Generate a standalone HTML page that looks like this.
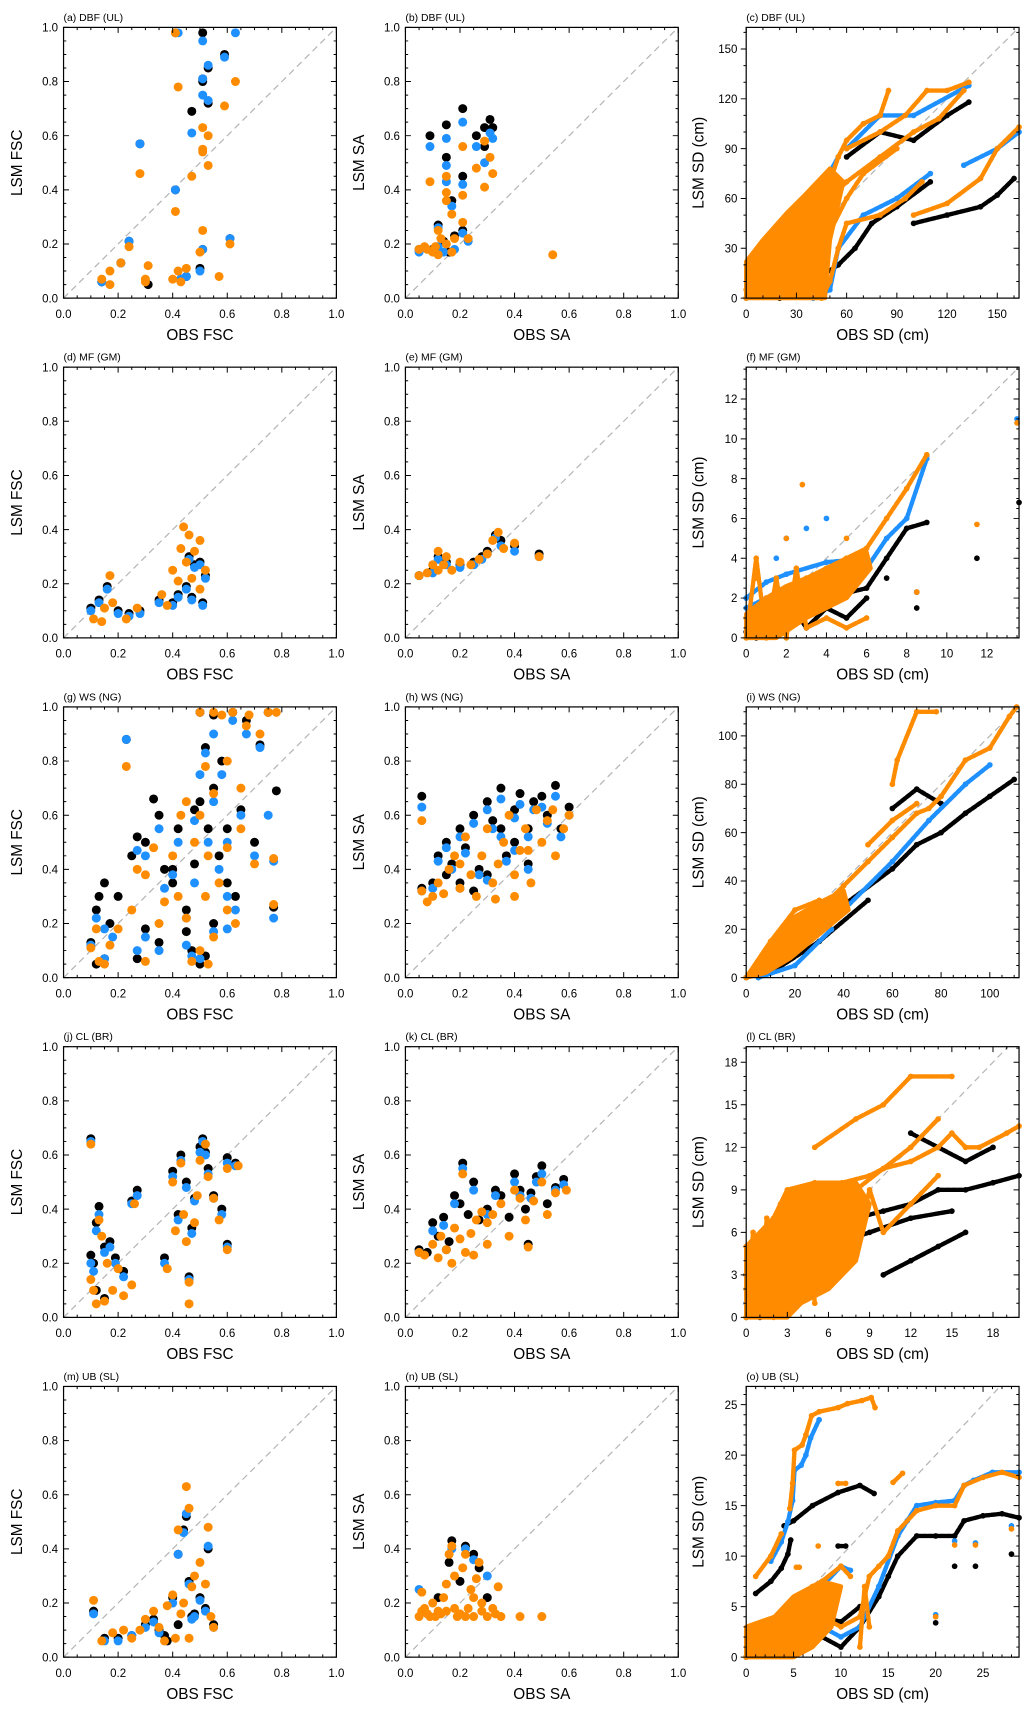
<!DOCTYPE html>
<html><head><meta charset="utf-8"><style>
html,body{margin:0;padding:0;background:#fff;}
svg{display:block;font-family:"Liberation Sans",sans-serif;}
</style></head><body>
<svg id="fig" width="1030" height="1717" viewBox="0 0 940 1566.6" preserveAspectRatio="none" xmlns="http://www.w3.org/2000/svg"></svg>
<script>
// ---------- DATA ----------
const aBlack=[[0.41,0.98],[0.51,0.98],[0.59,0.90],[0.53,0.85],[0.51,0.80],[0.53,0.72],[0.47,0.69],[0.28,0.57],[0.41,0.40],[0.51,0.18],[0.5,0.11],[0.31,0.05],[0.43,0.07],[0.61,0.22],[0.24,0.21],[0.21,0.13],[0.14,0.06],[0.45,0.08],[0.51,0.81]];
const aBlue=[[0.42,0.98],[0.51,0.95],[0.63,0.98],[0.59,0.89],[0.53,0.86],[0.51,0.81],[0.51,0.75],[0.53,0.73],[0.47,0.61],[0.28,0.57],[0.41,0.40],[0.61,0.22],[0.24,0.21],[0.51,0.18],[0.50,0.10],[0.45,0.08],[0.43,0.07],[0.14,0.06],[0.21,0.13]];
const aOrange=[[0.41,0.98],[0.42,0.78],[0.63,0.80],[0.59,0.71],[0.51,0.63],[0.53,0.60],[0.51,0.55],[0.51,0.54],[0.53,0.49],[0.47,0.45],[0.28,0.46],[0.41,0.32],[0.51,0.25],[0.61,0.20],[0.24,0.19],[0.50,0.17],[0.21,0.13],[0.31,0.12],[0.45,0.11],[0.42,0.10],[0.17,0.10],[0.14,0.07],[0.30,0.07],[0.40,0.07],[0.57,0.08],[0.30,0.06],[0.17,0.05],[0.43,0.06]];

const bBlack=[[0.09,0.60],[0.15,0.64],[0.21,0.70],[0.15,0.52],[0.26,0.60],[0.31,0.66],[0.29,0.63],[0.32,0.63],[0.29,0.56],[0.21,0.45],[0.17,0.36],[0.12,0.27],[0.21,0.25],[0.18,0.23],[0.14,0.21],[0.05,0.18],[0.10,0.18],[0.16,0.17]];
const bBlue=[[0.09,0.56],[0.15,0.59],[0.21,0.65],[0.15,0.49],[0.26,0.56],[0.31,0.61],[0.32,0.59],[0.29,0.50],[0.15,0.43],[0.21,0.42],[0.17,0.34],[0.12,0.26],[0.21,0.24],[0.23,0.21],[0.05,0.17],[0.12,0.19],[0.18,0.18],[0.14,0.17]];
const bOrange=[[0.09,0.43],[0.15,0.45],[0.21,0.56],[0.29,0.58],[0.31,0.52],[0.26,0.48],[0.32,0.46],[0.29,0.41],[0.15,0.39],[0.15,0.36],[0.21,0.38],[0.17,0.31],[0.21,0.28],[0.12,0.25],[0.13,0.22],[0.18,0.22],[0.23,0.22],[0.15,0.20],[0.07,0.19],[0.05,0.18],[0.10,0.17],[0.11,0.19],[0.17,0.17],[0.54,0.16],[0.08,0.18],[0.12,0.16]];

const cBlack=[[[20,0],[40,5],[48,8]],[[40,10],[55,20],[65,30],[75,45],[90,55],[110,70]],[[100,45],[120,50],[140,55],[150,62],[160,72]],[[60,85],[80,100],[100,95],[120,110],[133,118]]];
const cBlue=[[[0,0],[30,40],[55,85]],[[40,0],[50,5],[55,30],[70,50],[90,60],[110,75]],[[60,90],[80,110],[100,110],[133,128]],[[130,80],[150,90],[163,100]]];
const cOrange=[[[0,0],[10,20],[20,30],[30,45],[40,55],[50,70],[55,85],[60,95],[70,105],[80,110],[85,125]],[[60,90],[80,100],[95,110],[108,125],[120,125],[133,130]],[[45,55],[60,70],[80,85],[100,100],[115,108],[130,125]],[[0,5],[20,10],[40,20],[50,40],[60,60],[70,75],[90,90]],[[45,0],[50,10],[55,30],[60,45],[80,50],[95,60],[105,70]],[[100,50],[120,57],[140,72],[150,90],[163,103]]];
const cCloud=[[0,0],[0,22],[10,35],[25,52],[35,62],[50,78],[58,70],[50,35],[47,0]];

const dBlack=[[0.1,0.11],[0.13,0.14],[0.16,0.19],[0.2,0.1],[0.24,0.09],[0.28,0.1],[0.35,0.14],[0.4,0.13],[0.42,0.16],[0.45,0.19],[0.47,0.15],[0.48,0.27],[0.5,0.28],[0.51,0.13],[0.52,0.23],[0.46,0.30]];
const dBlue=[[0.1,0.10],[0.13,0.13],[0.16,0.18],[0.2,0.09],[0.24,0.08],[0.28,0.09],[0.35,0.13],[0.4,0.12],[0.42,0.15],[0.45,0.18],[0.47,0.14],[0.48,0.26],[0.5,0.27],[0.51,0.12],[0.52,0.22],[0.46,0.29]];
const dOrange=[[0.11,0.07],[0.14,0.06],[0.17,0.23],[0.15,0.11],[0.18,0.13],[0.23,0.07],[0.27,0.11],[0.36,0.16],[0.38,0.12],[0.43,0.33],[0.44,0.41],[0.46,0.38],[0.48,0.32],[0.50,0.36],[0.47,0.22],[0.52,0.25],[0.45,0.28],[0.42,0.21],[0.40,0.25],[0.5,0.18]];

const eBlack=[[0.05,0.23],[0.1,0.25],[0.12,0.3],[0.15,0.28],[0.2,0.27],[0.25,0.28],[0.3,0.32],[0.33,0.38],[0.35,0.36],[0.4,0.34],[0.49,0.31],[0.28,0.3]];
const eBlue=[[0.05,0.23],[0.1,0.24],[0.12,0.29],[0.15,0.27],[0.2,0.26],[0.25,0.27],[0.3,0.31],[0.33,0.37],[0.35,0.34],[0.4,0.32],[0.49,0.30],[0.28,0.29]];
const eOrange=[[0.05,0.23],[0.08,0.24],[0.1,0.27],[0.12,0.32],[0.14,0.27],[0.17,0.25],[0.2,0.28],[0.24,0.27],[0.27,0.29],[0.3,0.31],[0.32,0.36],[0.34,0.39],[0.36,0.33],[0.4,0.35],[0.49,0.30],[0.15,0.30],[0.12,0.25]];

const fBlack=[[[0,0.3],[1,0.8],[2,1.5],[4,2],[6,2.5],[7,4],[8,5.5],[9,5.8]],[[0.5,0],[1,1.5],[1.5,0.2],[2,2],[3,0.5],[4,1.5],[5,1],[6,2]],[[13.6,6.8]],[[11.5,4]],[[7,3]],[[8.5,1.5]],[[8.5,2.3]]];
const fBlue=[[[0,1.5],[1,2],[2,2.5],[4,3],[6,3.5],[7,5],[8,6],[9,9]],[[0,2],[1,2.8],[2,3.2],[4,3.8],[6,4]],[[13.5,11]],[[1.5,4]],[[3,5.5]],[[4,6]],[[2,5]]];
const fOrange=[[[0,1],[1,2],[2,2.5],[3,3],[4,3.5],[5,4],[6,4.5],[7,6],[8,7.5],[9,9.2]],[[0,0],[0.5,4],[1,0],[1.5,3],[2,0],[2.5,3.5],[3,0.5],[4,1],[5,0.5],[6,1]],[[2.8,7.7]],[[13.5,10.8]],[[11.5,5.7]],[[0.5,3]],[[2,5]],[[5,5]],[[8.5,2.3]]];
const fCloud=[[0,0],[0,1.2],[1,2],[2,2.6],[4,3.4],[6,4.3],[6.2,3.5],[5,2],[3,1],[1.5,0]];

const gBlack=[[0.1,0.13],[0.12,0.25],[0.13,0.3],[0.15,0.35],[0.17,0.2],[0.2,0.3],[0.23,0.88],[0.25,0.45],[0.27,0.52],[0.3,0.5],[0.33,0.66],[0.35,0.6],[0.37,0.4],[0.4,0.35],[0.42,0.55],[0.45,0.25],[0.47,0.1],[0.48,0.62],[0.5,0.98],[0.5,0.65],[0.52,0.85],[0.53,0.55],[0.55,0.97],[0.55,0.7],[0.57,0.45],[0.58,0.8],[0.6,0.35],[0.6,0.55],[0.62,0.98],[0.63,0.3],[0.65,0.62],[0.67,0.95],[0.7,0.5],[0.72,0.86],[0.75,0.98],[0.78,0.69],[0.77,0.26],[0.5,0.05],[0.52,0.08],[0.45,0.17],[0.35,0.13],[0.27,0.07],[0.15,0.07],[0.12,0.05],[0.4,0.4],[0.55,0.2],[0.48,0.42],[0.3,0.18]];
const gBlue=[[0.1,0.12],[0.12,0.22],[0.15,0.18],[0.18,0.15],[0.23,0.88],[0.27,0.47],[0.3,0.45],[0.35,0.55],[0.37,0.33],[0.42,0.5],[0.45,0.22],[0.47,0.08],[0.48,0.58],[0.5,0.98],[0.5,0.75],[0.52,0.83],[0.53,0.5],[0.55,0.9],[0.55,0.65],[0.57,0.4],[0.58,0.75],[0.6,0.3],[0.6,0.5],[0.62,0.95],[0.63,0.25],[0.65,0.6],[0.67,0.9],[0.7,0.45],[0.72,0.85],[0.75,0.6],[0.77,0.22],[0.77,0.43],[0.5,0.07],[0.45,0.12],[0.35,0.1],[0.27,0.1],[0.15,0.07],[0.55,0.17],[0.48,0.35],[0.3,0.15],[0.6,0.18],[0.4,0.38]];
const gOrange=[[0.1,0.11],[0.12,0.18],[0.13,0.06],[0.15,0.05],[0.17,0.12],[0.2,0.18],[0.23,0.78],[0.25,0.25],[0.27,0.4],[0.3,0.38],[0.33,0.48],[0.35,0.2],[0.37,0.28],[0.4,0.45],[0.42,0.3],[0.45,0.22],[0.47,0.06],[0.48,0.5],[0.5,0.98],[0.5,0.6],[0.52,0.78],[0.53,0.45],[0.55,0.98],[0.55,0.68],[0.57,0.35],[0.58,0.97],[0.6,0.25],[0.6,0.48],[0.62,0.98],[0.63,0.2],[0.65,0.55],[0.67,0.93],[0.68,0.97],[0.7,0.42],[0.72,0.9],[0.75,0.98],[0.78,0.98],[0.77,0.44],[0.77,0.27],[0.5,0.1],[0.53,0.05],[0.45,0.65],[0.43,0.6],[0.3,0.06],[0.55,0.15],[0.6,0.8],[0.65,0.7],[0.52,0.3]];

const hBlack=[[0.06,0.67],[0.06,0.33],[0.1,0.35],[0.12,0.45],[0.15,0.5],[0.17,0.42],[0.2,0.55],[0.22,0.48],[0.25,0.6],[0.27,0.4],[0.3,0.65],[0.32,0.58],[0.35,0.7],[0.37,0.45],[0.4,0.62],[0.42,0.68],[0.45,0.55],[0.47,0.65],[0.5,0.67],[0.52,0.6],[0.55,0.71],[0.57,0.55],[0.6,0.63],[0.2,0.35],[0.3,0.38],[0.4,0.5],[0.25,0.32],[0.45,0.42],[0.15,0.38],[0.35,0.55]];
const hBlue=[[0.06,0.63],[0.06,0.32],[0.1,0.33],[0.12,0.43],[0.15,0.48],[0.17,0.4],[0.2,0.52],[0.22,0.46],[0.25,0.57],[0.27,0.38],[0.3,0.62],[0.32,0.55],[0.35,0.66],[0.37,0.43],[0.4,0.59],[0.42,0.64],[0.45,0.52],[0.47,0.62],[0.5,0.63],[0.52,0.57],[0.55,0.67],[0.57,0.52],[0.6,0.6],[0.2,0.33],[0.3,0.36],[0.4,0.47],[0.45,0.4],[0.35,0.52]];
const hOrange=[[0.06,0.58],[0.06,0.32],[0.08,0.28],[0.1,0.3],[0.12,0.35],[0.14,0.31],[0.16,0.4],[0.18,0.45],[0.2,0.33],[0.22,0.52],[0.24,0.38],[0.26,0.3],[0.28,0.45],[0.3,0.55],[0.32,0.35],[0.34,0.42],[0.36,0.5],[0.38,0.6],[0.4,0.38],[0.42,0.47],[0.44,0.55],[0.46,0.35],[0.48,0.62],[0.5,0.5],[0.52,0.58],[0.55,0.45],[0.58,0.55],[0.6,0.6],[0.4,0.3],[0.2,0.42],[0.33,0.29],[0.45,0.47],[0.54,0.62]];

const iBlack=[[[0,0],[20,12],[40,30],[60,45],[70,55],[80,60],[90,68],[100,75],[110,82]],[[60,70],[70,78],[80,72]],[[10,2],[30,15],[50,32]]];
const iBlue=[[[0,0],[20,10],[40,28],[60,48],[75,65],[90,80],[100,88]],[[5,0],[20,5],[35,20]]];
const iOrange=[[[0,0],[10,8],[20,20],[30,28],[40,38],[50,48],[60,58],[70,68],[75,70],[80,75],[90,90],[100,95],[108,108],[111,112]],[[60,80],[62,90],[70,110],[78,110]],[[0,0],[10,15],[20,28],[30,32],[20,18],[10,6]],[[50,55],[60,65],[70,72]]];
const iCloud=[[0,0],[8,12],[18,24],[30,31],[40,36],[42,28],[30,18],[18,8],[8,2]];

const jBlack=[[0.1,0.66],[0.1,0.23],[0.11,0.2],[0.12,0.35],[0.13,0.41],[0.15,0.26],[0.17,0.28],[0.19,0.22],[0.22,0.17],[0.25,0.43],[0.27,0.47],[0.37,0.22],[0.4,0.54],[0.42,0.38],[0.43,0.6],[0.45,0.5],[0.47,0.33],[0.48,0.44],[0.5,0.63],[0.51,0.66],[0.52,0.61],[0.53,0.55],[0.55,0.45],[0.58,0.4],[0.6,0.59],[0.63,0.57],[0.46,0.15],[0.6,0.27],[0.12,0.1],[0.15,0.07]];
const jBlue=[[0.1,0.65],[0.1,0.2],[0.11,0.17],[0.12,0.32],[0.13,0.38],[0.15,0.24],[0.17,0.26],[0.19,0.2],[0.22,0.15],[0.25,0.42],[0.27,0.45],[0.37,0.2],[0.4,0.52],[0.42,0.36],[0.43,0.58],[0.45,0.48],[0.47,0.31],[0.48,0.43],[0.5,0.61],[0.51,0.65],[0.52,0.6],[0.53,0.53],[0.55,0.44],[0.58,0.38],[0.6,0.57],[0.63,0.56],[0.46,0.14],[0.6,0.26]];
const jOrange=[[0.1,0.64],[0.1,0.14],[0.11,0.1],[0.12,0.05],[0.13,0.36],[0.14,0.3],[0.15,0.06],[0.16,0.2],[0.18,0.1],[0.2,0.18],[0.22,0.08],[0.25,0.12],[0.26,0.42],[0.38,0.18],[0.4,0.5],[0.41,0.32],[0.43,0.57],[0.45,0.28],[0.46,0.05],[0.46,0.13],[0.48,0.35],[0.5,0.58],[0.52,0.64],[0.53,0.52],[0.55,0.44],[0.57,0.36],[0.6,0.25],[0.6,0.55],[0.64,0.56],[0.49,0.45],[0.44,0.38]];

const kBlack=[[0.05,0.25],[0.08,0.24],[0.1,0.35],[0.12,0.3],[0.14,0.37],[0.16,0.28],[0.18,0.45],[0.2,0.42],[0.21,0.57],[0.23,0.38],[0.25,0.5],[0.27,0.36],[0.3,0.4],[0.33,0.47],[0.35,0.45],[0.38,0.37],[0.4,0.53],[0.42,0.47],[0.44,0.4],[0.46,0.46],[0.48,0.52],[0.5,0.56],[0.52,0.42],[0.55,0.48],[0.58,0.51],[0.45,0.27],[0.15,0.25]];
const kBlue=[[0.05,0.24],[0.1,0.32],[0.14,0.34],[0.18,0.42],[0.21,0.55],[0.25,0.47],[0.3,0.38],[0.33,0.45],[0.4,0.5],[0.42,0.45],[0.46,0.44],[0.48,0.5],[0.5,0.53],[0.55,0.47],[0.58,0.49]];
const kOrange=[[0.05,0.24],[0.07,0.23],[0.1,0.27],[0.12,0.22],[0.13,0.3],[0.15,0.25],[0.17,0.2],[0.18,0.33],[0.2,0.29],[0.21,0.53],[0.22,0.24],[0.24,0.31],[0.26,0.36],[0.28,0.39],[0.3,0.35],[0.32,0.38],[0.35,0.42],[0.38,0.3],[0.4,0.47],[0.42,0.44],[0.44,0.36],[0.45,0.26],[0.47,0.43],[0.5,0.5],[0.52,0.38],[0.55,0.46],[0.59,0.47],[0.3,0.27],[0.25,0.23]];

const lBlack=[[[0,0],[2,3],[4,5],[6,6],[8,7],[10,7.5],[12,8],[14,9],[16,9],[18,9.5],[19.9,10]],[[0,3],[3,4],[6,5],[9,6],[12,7],[15,7.5]],[[12,13],[14,12],[16,11],[18,12]],[[10,3],[12,4],[14,5],[16,6]],[[1,0],[2,6],[3,1],[4,7],[5,2],[6,8]]];
const lBlue=[[[0,1],[2,4],[4,6],[6,7]],[[0,0],[1,3],[2,1]]];
const lOrange=[[[0,5],[2,7],[3,9],[5,9.5],[7,9.5],[9,10],[10,10.5],[12,11],[14,12],[15,13],[16,12],[17,12],[19,13],[19.9,13.5]],[[5,12],[8,14],[10,15],[12,17],[15,17]],[[0,0],[1,4],[2,2],[3,6],[4,3],[5,7],[6,4],[7,8],[8,5],[9,9],[10,6],[12,8],[14,10]],[[0,2],[2,5],[4,6],[6,8],[8,9],[10,10.5],[12,12],[14,14]],[[0,0],[0.5,6],[1,1],[1.5,7],[2,0],[2.5,8],[3,1],[3.5,9],[4,2],[4.5,8],[5,1]]];
const lCloud=[[0,0],[0,5],[2,7],[3,9],[5,9.5],[8,9.5],[9,8],[8,4],[6,2],[4,1],[3,0]];

const mBlack=[[0.11,0.17],[0.15,0.07],[0.2,0.07],[0.25,0.08],[0.3,0.12],[0.33,0.14],[0.35,0.1],[0.37,0.08],[0.4,0.22],[0.42,0.38],[0.44,0.47],[0.45,0.52],[0.46,0.28],[0.48,0.16],[0.5,0.22],[0.52,0.18],[0.53,0.4],[0.55,0.12],[0.42,0.12],[0.38,0.06],[0.47,0.15]];
const mBlue=[[0.11,0.16],[0.15,0.06],[0.2,0.06],[0.25,0.08],[0.3,0.11],[0.33,0.13],[0.35,0.09],[0.4,0.2],[0.42,0.38],[0.44,0.46],[0.45,0.53],[0.46,0.27],[0.48,0.15],[0.5,0.21],[0.52,0.17],[0.53,0.41],[0.55,0.11],[0.47,0.14]];
const mOrange=[[0.11,0.21],[0.14,0.06],[0.18,0.09],[0.22,0.1],[0.25,0.07],[0.28,0.1],[0.3,0.14],[0.33,0.17],[0.35,0.11],[0.37,0.06],[0.4,0.23],[0.42,0.47],[0.43,0.16],[0.44,0.2],[0.45,0.63],[0.46,0.55],[0.47,0.26],[0.48,0.3],[0.5,0.35],[0.52,0.27],[0.53,0.48],[0.54,0.15],[0.55,0.11],[0.41,0.07],[0.38,0.19],[0.46,0.07]];

const nBlack=[[0.17,0.43],[0.22,0.41],[0.25,0.38],[0.27,0.33],[0.16,0.35],[0.2,0.28],[0.12,0.22],[0.3,0.22]];
const nBlue=[[0.22,0.4],[0.17,0.4],[0.05,0.25],[0.25,0.36],[0.3,0.3]];
const nOrange=[[0.05,0.15],[0.06,0.24],[0.07,0.18],[0.08,0.16],[0.1,0.2],[0.12,0.17],[0.14,0.22],[0.15,0.27],[0.16,0.38],[0.17,0.41],[0.18,0.3],[0.2,0.16],[0.21,0.33],[0.22,0.38],[0.23,0.18],[0.24,0.25],[0.25,0.22],[0.26,0.29],[0.27,0.35],[0.28,0.17],[0.3,0.15],[0.32,0.18],[0.34,0.26],[0.35,0.15],[0.42,0.15],[0.5,0.15],[0.09,0.15],[0.11,0.15],[0.13,0.16],[0.19,0.15],[0.22,0.15],[0.25,0.15],[0.15,0.17],[0.18,0.18],[0.28,0.2],[0.33,0.16],[0.06,0.17]];

const oBlack=[[[0,0],[4,1],[8,2],[10,1],[12,3],[14,6],[15,8],[16,10],[18,12],[20,12],[22,12],[23,13.5],[25,14],[27,14.2],[28.8,13.8]],[[4,13],[5,13.5],[7,15],[9.7,16.3],[12,17],[13.5,16.2]],[[1,6.3],[2.6,7.5],[3.7,8.8],[4.4,10.2],[4.7,11.6]],[[9.7,11],[10.5,11]],[[20,3.4]],[[22,9]],[[24.2,9]],[[28,10.2]],[[3,3],[6,5],[8,4],[10,3.5],[12,5]]];
const oBlue=[[[0,0],[4,2],[8,3],[10,2],[12,3],[14,7],[16,12],[17,13.5],[18,15],[20,15.3],[22,15.5],[23,17],[24,17.5],[26,18.3],[28.8,18.3]],[[2.6,9.5],[3.7,11.4],[4.4,13.4],[4.9,15.5],[5.1,18.5],[5.8,19],[6.3,20],[6.8,21.7],[7.7,23.5]],[[4,3],[7,6],[10,9],[11,8.6]],[[20,4.2]],[[22,11.5]],[[24.2,11.3]],[[28,13]]];
const oOrange=[[[0,0],[2,1],[4,2],[6,3],[8,4],[10,3],[12,4],[13,8],[14,9],[15,10],[16,12.5],[18,14.5],[20,15],[22,15],[23,17],[25,17.8],[27,18.3],[28.8,17.8]],[[4.6,14.7],[4.9,17.2],[5.1,20.5],[5.9,21],[6.3,22],[6.9,23.9],[7.7,24.3],[9.7,24.7],[10.7,25.1],[12.2,25.4],[13.2,25.7],[13.6,24.7]],[[0,0],[3,2],[5,5],[7,7],[8,7.5],[10,9],[11,8]],[[1,8],[2.6,10],[3.7,12.2]],[[9.7,17.2],[10.5,17.2]],[[15.5,17.3],[16.5,18.2]],[[5.3,8.9],[5.6,8.9]],[[7.6,11]],[[20,4]],[[22,11.1]],[[24.2,11.1]],[[28,12.7]],[[12,1],[12.5,7],[13,3]]];
const oCloud=[[0,0],[0,3],[3,4],[5,6],[7,7],[8,7.5],[10,7],[9,3],[7,1],[5,0]];

// ---------- LAYOUT ----------
const COLS=[58,370,681], ROWS=[25,335,645,955,1265], W=249, H=247;
const BLK='#000000', BLU='#1e90ff', ORG='#ff8c00';
const svg=document.getElementById('fig');
const NS='http://www.w3.org/2000/svg';
function mk(tag,attrs,parent){const e=document.createElementNS(NS,tag);for(const k in attrs)e.setAttribute(k,attrs[k]);(parent||svg).appendChild(e);return e;}

function panel(letter,title,col,row,xmax,ymax,major,minor,xlab,ylab,pts,lines,cloud){
  const px=COLS[col],py=ROWS[row];
  const X=v=>px+v/xmax*W, Y=v=>py+H-v/ymax*H;
  const g=mk('g',{});
  
  
  const t=mk('text',{x:px,y:py-6,'font-size':9.5,fill:'#000'},g);
  t.textContent='('+letter+') '+title;
  
  
  const dm=Math.min(xmax,ymax);
  const dl=mk('line',{x1:X(0),y1:Y(0),x2:X(dm),y2:Y(dm),stroke:'#b4b4b4','stroke-width':1.1,'stroke-dasharray':'6,4'},g);
  
  
  const series=[[BLK,'black'],[BLU,'blue'],[ORG,'orange']];
  if(pts){
    pts.forEach((arr,i)=>{arr.forEach(p=>{
      const c=mk('circle',{cx:X(p[0]),cy:Y(p[1]),r:4.1,fill:series[i][0]},g);
      
      
    });});
  }
  if(lines){
    lines.forEach((arr,i)=>{
      if(i===2&&cloud){
        const pg=mk('polygon',{points:cloud.map(p=>X(p[0])+','+Y(p[1])).join(' '),fill:ORG,stroke:ORG,'stroke-width':4,'stroke-linejoin':'round'},g);
        
        
      }
      arr.forEach(seg=>{
      if(seg.length>1){
        const pl=mk('polyline',{points:seg.map(p=>X(p[0])+','+Y(p[1])).join(' '),fill:'none',stroke:series[i][0],'stroke-width':4,'stroke-linecap':'round','stroke-linejoin':'round','stroke-dasharray':'4,1.5'},g);
        
        
      }
      seg.forEach(p=>{
        const c=mk('circle',{cx:X(p[0]),cy:Y(p[1]),r:2.6,fill:series[i][0]},g);
        
        
      });
    });});
  }
  const fr=mk('rect',{x:px,y:py,width:W,height:H,fill:'none',stroke:'#000','stroke-width':1.1},g);
  
  
  const tk=[];
  const out=col===2?-1:1;
  const dec=major<1?1:0;
  for(let v=0;v<=xmax+1e-9;v+=minor){
    const isM=Math.abs(v/major-Math.round(v/major))<1e-6; const L=isM?5:2.5;
    tk.push(`M${X(v)},${py+H}v${-L}M${X(v)},${py}v${L}`);
    if(isM){const s=mk('text',{x:X(v),y:py+H+18,'font-size':10.5,'text-anchor':'middle'},g);s.textContent=v.toFixed(dec);
      
      }
  }
  for(let v=0;v<=ymax+1e-9;v+=minor){
    const isM=Math.abs(v/major-Math.round(v/major))<1e-6; const L=isM?5:2.5;
    tk.push(`M${px},${Y(v)}h${out*L}M${px+W},${Y(v)}h${-L}`);
    if(isM){const s=mk('text',{x:px-(col===2?8:5),y:Y(v)+3.8,'font-size':10.5,'text-anchor':'end'},g);s.textContent=v.toFixed(dec);
      
      }
  }
  const tp=mk('path',{d:tk.join(''),stroke:'#000','stroke-width':0.9,fill:'none'},g);
  
  
  const xt=mk('text',{x:px+W/2,y:py+H+38,'font-size':14,'text-anchor':'middle'},g);
  xt.textContent=xlab;
  
  
  const yx=col===0?20:(col===1?332:642);
  const yt=mk('text',{x:yx,y:py+H/2,'font-size':14,'text-anchor':'middle',transform:`rotate(-90 ${yx} ${py+H/2})`},g);
  yt.textContent=ylab;
  
  
}
const FX='OBS FSC',FY='LSM FSC',SX='OBS SA',SY='LSM SA',DX='OBS SD (cm)',DY='LSM SD (cm)';
panel('a','DBF (UL)',0,0,1,1,0.2,0.05,FX,FY,[aBlack,aBlue,aOrange]);
panel('b','DBF (UL)',1,0,1,1,0.2,0.05,SX,SY,[bBlack,bBlue,bOrange]);
panel('c','DBF (UL)',2,0,163,163,30,10,DX,DY,null,[cBlack,cBlue,cOrange],cCloud);
panel('d','MF (GM)',0,1,1,1,0.2,0.05,FX,FY,[dBlack,dBlue,dOrange]);
panel('e','MF (GM)',1,1,1,1,0.2,0.05,SX,SY,[eBlack,eBlue,eOrange]);
panel('f','MF (GM)',2,1,13.6,13.6,2,0.5,DX,DY,null,[fBlack,fBlue,fOrange],fCloud);
panel('g','WS (NG)',0,2,1,1,0.2,0.05,FX,FY,[gBlack,gBlue,gOrange]);
panel('h','WS (NG)',1,2,1,1,0.2,0.05,SX,SY,[hBlack,hBlue,hOrange]);
panel('i','WS (NG)',2,2,112,112,20,5,DX,DY,null,[iBlack,iBlue,iOrange],iCloud);
panel('j','CL (BR)',0,3,1,1,0.2,0.05,FX,FY,[jBlack,jBlue,jOrange]);
panel('k','CL (BR)',1,3,1,1,0.2,0.05,SX,SY,[kBlack,kBlue,kOrange]);
panel('l','CL (BR)',2,3,19.9,19.1,3,1,DX,DY,null,[lBlack,lBlue,lOrange],lCloud);
panel('m','UB (SL)',0,4,1,1,0.2,0.05,FX,FY,[mBlack,mBlue,mOrange]);
panel('n','UB (SL)',1,4,1,1,0.2,0.05,SX,SY,[nBlack,nBlue,nOrange]);
panel('o','UB (SL)',2,4,28.8,26.8,5,1,DX,DY,null,[oBlack,oBlue,oOrange],oCloud);
</script>
</body></html>
